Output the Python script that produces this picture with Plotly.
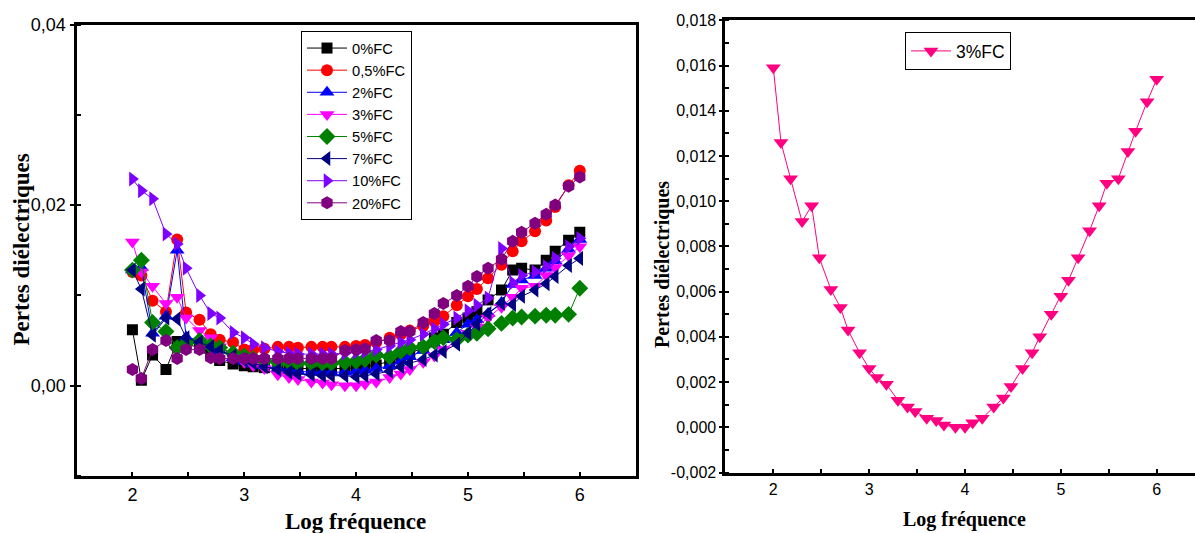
import plotly.graph_objects as go

log_freq = [2.00, 2.08, 2.18, 2.30, 2.40, 2.48, 2.60, 2.70, 2.78, 2.90,
            3.00, 3.08, 3.18, 3.30, 3.40, 3.48, 3.60, 3.70, 3.78, 3.90,
            4.00, 4.08, 4.18, 4.30, 4.40, 4.48, 4.60, 4.70, 4.78, 4.90,
            5.00, 5.08, 5.18, 5.30, 5.40, 5.48, 5.60, 5.70, 5.78, 5.90, 6.00]

fc_0 = [0.0062, 0.0006, 0.0034, 0.0018, 0.0049, 0.0046, 0.0042, 0.0036, 0.0028, 0.0024,
        0.0022, 0.0021, 0.0020, 0.0019, 0.0019, 0.0019, 0.0019, 0.0019, 0.0019, 0.0019,
        0.0020, 0.0021, 0.0023, 0.0027, 0.0032, 0.0036, 0.0042, 0.0053, 0.0057, 0.0070,
        0.0075, 0.0082, 0.0095, 0.0106, 0.0128, 0.0130, 0.0128, 0.0139, 0.0149, 0.0161, 0.0170]

fc_05 = [0.0126, 0.0122, 0.0094, 0.0082, 0.0162, 0.0081, 0.0073, 0.0057, 0.0051, 0.0048,
         0.0040, 0.0040, 0.0041, 0.0043, 0.0043, 0.0042, 0.0043, 0.0043, 0.0043, 0.0043,
         0.0044, 0.0045, 0.0048, 0.0053, 0.0057, 0.0061, 0.0066, 0.0071, 0.0077, 0.0089,
         0.0099, 0.0107, 0.0119, 0.0134, 0.0149, 0.0160, 0.0171, 0.0183, 0.0198, 0.0222, 0.0238]

fc_2 = [0.0128, 0.0131, 0.0058, 0.0077, 0.0150, 0.0054, 0.0050, 0.0044, 0.0039, 0.0031,
        0.0027, 0.0024, 0.0022, 0.0019, 0.0017, 0.0016, 0.0015, 0.0015, 0.0015, 0.0015,
        0.0016, 0.0017, 0.0019, 0.0022, 0.0027, 0.0032, 0.0039, 0.0046, 0.0051, 0.0059,
        0.0068, 0.0073, 0.0080, 0.0092, 0.0112, 0.0117, 0.0122, 0.0130, 0.0138, 0.0151, 0.0162]

fc_3 = [0.0159, 0.0126, 0.0110, 0.0091, 0.0098, 0.0075, 0.0061, 0.0053, 0.0043, 0.0033,
        0.0026, 0.0022, 0.0019, 0.0012, 0.0009, 0.0007, 0.0004, 0.0003, 0.0001, 0.0000,
        0.0000, 0.0002, 0.0004, 0.0009, 0.0013, 0.0018, 0.0026, 0.0033, 0.0040, 0.0050,
        0.0058, 0.0065, 0.0075, 0.0087, 0.0098, 0.0108, 0.0110, 0.0122, 0.0131, 0.0144, 0.0154]

fc_5 = [0.0128, 0.0139, 0.0070, 0.0060, 0.0042, 0.0047, 0.0050, 0.0044, 0.0042, 0.0036,
        0.0033, 0.0030, 0.0028, 0.0026, 0.0026, 0.0025, 0.0025, 0.0025, 0.0025, 0.0026,
        0.0027, 0.0029, 0.0034, 0.0032, 0.0038, 0.0042, 0.0043, 0.0049, 0.0053, 0.0051,
        0.0056, 0.0058, 0.0063, 0.0069, 0.0075, 0.0076, 0.0077, 0.0078, 0.0078, 0.0079, 0.0108]

fc_7 = [0.0128, 0.0107, 0.0056, 0.0075, 0.0074, 0.0053, 0.0048, 0.0043, 0.0039, 0.0033,
        0.0028, 0.0025, 0.0021, 0.0018, 0.0015, 0.0013, 0.0012, 0.0011, 0.0011, 0.0011,
        0.0010, 0.0011, 0.0013, 0.0016, 0.0021, 0.0025, 0.0029, 0.0034, 0.0038, 0.0046,
        0.0058, 0.0068, 0.0080, 0.0091, 0.0090, 0.0099, 0.0106, 0.0113, 0.0121, 0.0133, 0.0141]

fc_10 = [0.0229, 0.0216, 0.0207, 0.0168, 0.0157, 0.0130, 0.0100, 0.0080, 0.0075, 0.0059,
         0.0053, 0.0046, 0.0042, 0.0038, 0.0036, 0.0035, 0.0035, 0.0035, 0.0035, 0.0036,
         0.0037, 0.0038, 0.0040, 0.0044, 0.0048, 0.0051, 0.0057, 0.0063, 0.0068, 0.0075,
         0.0083, 0.0089, 0.0097, 0.0152, 0.0114, 0.0122, 0.0126, 0.0132, 0.0141, 0.0154, 0.0163]

fc_20 = [0.0018, 0.0008, 0.0040, 0.0050, 0.0030, 0.0040, 0.0040, 0.0031, 0.0030, 0.0030,
         0.0030, 0.0030, 0.0030, 0.0030, 0.0030, 0.0030, 0.0030, 0.0030, 0.0030, 0.0039,
         0.0040, 0.0041, 0.0050, 0.0050, 0.0060, 0.0060, 0.0070, 0.0080, 0.0091, 0.0100,
         0.0110, 0.0121, 0.0130, 0.0140, 0.0160, 0.0170, 0.0180, 0.0190, 0.0200, 0.0221, 0.0231]

series_names = ["0%FC", "0,5%FC", "2%FC", "3%FC", "5%FC", "7%FC", "10%FC", "20%FC"]
series_values = [fc_0, fc_05, fc_2, fc_3, fc_5, fc_7, fc_10, fc_20]
series_colors = ["#000000", "#FF0000", "#0000FF", "#FF00FF", "#008000", "#000080", "#8000FF", "#800080"]
series_symbols = ["square", "circle", "triangle-up", "triangle-down", "diamond",
                  "triangle-left", "triangle-right", "hexagon"]
series_sizes = [11, 12, 13, 13, 13, 13, 13, 13]

right_name = "3%FC"
right_values = fc_3
right_color = "#FF0080"

left_y_ticks = [0.0, 0.02, 0.04]
left_y_labels = ["0,00", "0,02", "0,04"]
right_y_ticks = [-0.002, 0.0, 0.002, 0.004, 0.006, 0.008, 0.010, 0.012, 0.014, 0.016, 0.018]
right_y_labels = ["-0,002", "0,000", "0,002", "0,004", "0,006", "0,008", "0,010",
                  "0,012", "0,014", "0,016", "0,018"]
x_ticks = [2, 3, 4, 5, 6]
x_labels = ["2", "3", "4", "5", "6"]

W, H = 1195, 533

fig = go.Figure()
for name, vals, col, sym, sz in zip(series_names, series_values, series_colors, series_symbols, series_sizes):
    fig.add_trace(go.Scatter(
        x=log_freq, y=vals, name=name, mode="lines+markers",
        line=dict(color=col, width=1),
        marker=dict(symbol=sym, size=sz, color=col, line=dict(width=0)),
        xaxis="x", yaxis="y", legend="legend"))

fig.add_trace(go.Scatter(
    x=log_freq, y=right_values, name=right_name, mode="lines+markers",
    line=dict(color=right_color, width=1),
    marker=dict(symbol="triangle-down", size=13, color=right_color, line=dict(width=0)),
    xaxis="x2", yaxis="y2", legend="legend2"))

axis_common = dict(showline=True, linecolor="black", linewidth=3, showgrid=False, zeroline=False,
                   tickcolor="black", tickwidth=2, automargin=False)

tick_font_l = dict(family="Liberation Sans", size=18, color="black")
tick_font_r = dict(family="Liberation Sans", size=16, color="black")

fig.update_layout(
    width=W, height=H,
    margin=dict(l=0, r=0, t=0, b=0, pad=0, autoexpand=False),
    paper_bgcolor="white", plot_bgcolor="white",
    xaxis=dict(domain=[76.5 / W, 635.7 / W], anchor="y", range=[1.5, 6.5],
               tickvals=x_ticks, ticktext=x_labels,
               ticks="inside", ticklen=4, mirror=True, tickfont=tick_font_l,
               minor=dict(dtick=0.5, tick0=1.5, ticks="inside", ticklen=4, tickwidth=2, tickcolor="black"),
               **axis_common),
    yaxis=dict(domain=[(H - 476) / H, (H - 24.5) / H], anchor="x", range=[-0.01, 0.04],
               tickvals=left_y_ticks, ticktext=left_y_labels,
               ticks="outside", ticklen=4, mirror=True, tickfont=tick_font_l,
               minor=dict(dtick=0.01, tick0=-0.01, ticks="inside", ticklen=4, tickwidth=2, tickcolor="black"),
               **axis_common),
    xaxis2=dict(domain=[725.4 / W, 1.0], anchor="y2", range=[1.5, 6.4],
                tickvals=x_ticks, ticktext=x_labels,
                ticks="inside", ticklen=4, mirror=True, tickfont=tick_font_r,
                minor=dict(dtick=0.5, tick0=1.5, ticks="inside", ticklen=4, tickwidth=2, tickcolor="black"),
                **axis_common),
    yaxis2=dict(domain=[(H - 472.5) / H, (H - 20.4) / H], anchor="x2", range=[-0.002, 0.018],
                tickvals=right_y_ticks, ticktext=right_y_labels,
                ticks="outside", ticklen=3, mirror=False, tickfont=tick_font_r,
                minor=dict(dtick=0.001, tick0=-0.002, ticks="inside", ticklen=4, tickwidth=2, tickcolor="black"),
                **axis_common),
    legend=dict(x=301 / W, y=(H - 31) / H, xanchor="left", yanchor="top",
                bgcolor="white", bordercolor="black", borderwidth=1,
                font=dict(family="Liberation Sans", size=14.7, color="black"),
                itemwidth=40, tracegroupgap=0),
    legend2=dict(x=905 / W, y=(H - 32) / H, xanchor="left", yanchor="top",
                 bgcolor="white", bordercolor="black", borderwidth=1,
                 font=dict(family="Liberation Sans", size=17.5, color="black"),
                 itemwidth=40),
    showlegend=True,
)

title_font_l = dict(family="Liberation Serif", size=23, color="black", weight="bold")
title_font_r = dict(family="Liberation Serif", size=20, color="black", weight="bold")

fig.add_annotation(text="Pertes diélectriques", x=20.5 / W, y=(H - 250) / H, xref="paper", yref="paper",
                   textangle=-90, showarrow=False, font=title_font_l, xanchor="center", yanchor="middle")
fig.add_annotation(text="Log fréquence", x=355.7 / W, y=(H - 521) / H, xref="paper", yref="paper",
                   showarrow=False, font=title_font_l, xanchor="center", yanchor="middle")
fig.add_annotation(text="Pertes diélectriques", x=662 / W, y=(H - 265) / H, xref="paper", yref="paper",
                   textangle=-90, showarrow=False, font=title_font_r, xanchor="center", yanchor="middle")
fig.add_annotation(text="Log fréquence", x=964.5 / W, y=(H - 519) / H, xref="paper", yref="paper",
                   showarrow=False, font=title_font_r, xanchor="center", yanchor="middle")

fig.write_html("out.html")
